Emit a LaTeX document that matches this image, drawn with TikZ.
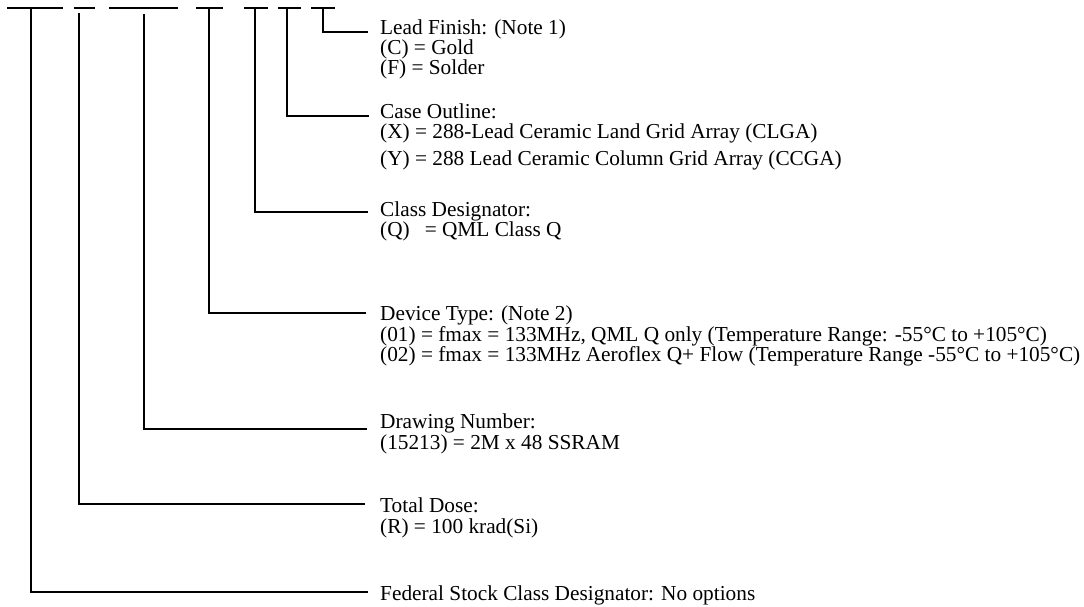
\documentclass[tikz,border=0pt]{standalone}
\usepackage{fontspec}
\setmainfont{Liberation Serif}
\begin{document}
\begin{tikzpicture}[x=1pt,y=-1pt,
  bar/.style={line width=2.7pt},
  conn/.style={line width=2.7pt, line join=miter},
  lbl/.style={anchor=base west, inner sep=0pt, font=\fontsize{21.3}{21}\selectfont}]
\useasboundingbox (0,0) rectangle (1084,607);
% dashes of the part number
\draw[bar] (7,8) -- (63,8);
\draw[bar] (74,8) -- (95,8);
\draw[bar] (109,8) -- (178,8);
\draw[bar] (196,8) -- (223,8);
\draw[bar] (244,8) -- (268,8);
\draw[bar] (278,8) -- (301,8);
\draw[bar] (311,8) -- (335,8);
% connector start points
\coordinate (s1) at (31,8);
\coordinate (s2) at (79,13);
\coordinate (s3) at (144,14);
\coordinate (s4) at (209,8);
\coordinate (s5) at (255,8);
\coordinate (s6) at (287,8);
\coordinate (s7) at (323,8);
% connector end points
\coordinate (e7) at (368,32);
\coordinate (e6) at (369,116);
\coordinate (e5) at (368,212);
\coordinate (e4) at (366,313);
\coordinate (e3) at (367,429);
\coordinate (e2) at (365,504);
\coordinate (e1) at (368,592);
% labels
\node[lbl] (l7a) at (380,35) {Lead Finish: (Note 1)};
\node[lbl] (l7b) at (380,55) {(C) = Gold};
\node[lbl] (l7c) at (380,75) {(F) = Solder};
\node[lbl] (l6a) at (380,119) {Case Outline:};
\node[lbl] (l6b) at (380,139) {(X) = 288-Lead Ceramic Land Grid Array (CLGA)};
\node[lbl] (l6c) at (380,165) {(Y) = 288 Lead Ceramic Column Grid Array (CCGA)};
\node[lbl] (l5a) at (380,216) {Class Designator:};
\node[lbl] (l5b) at (380,236) {(Q)\hspace{15pt}= QML Class Q};
\node[lbl] (l4a) at (380,320) {Device Type: (Note 2)};
\node[lbl] (l4b) at (380,341) {(01) = fmax = 133MHz, QML Q only (Temperature Range: -55°C to +105°C)};
\node[lbl] (l4c) at (380,361) {(02) = fmax = 133MHz Aeroflex Q+ Flow (Temperature Range -55°C to +105°C)};
\node[lbl] (l3a) at (380,428) {Drawing Number:};
\node[lbl] (l3b) at (380,449) {(15213) = 2M x 48 SSRAM};
\node[lbl] (l2a) at (380,512) {Total Dose:};
\node[lbl] (l2b) at (380,533) {(R) = 100 krad(Si)};
\node[lbl] (l1a) at (380,600) {Federal Stock Class Designator: No options};
% connectors
\draw[conn] (s7) |- (e7);
\draw[conn] (s6) |- (e6);
\draw[conn] (s5) |- (e5);
\draw[conn] (s4) |- (e4);
\draw[conn] (s3) |- (e3);
\draw[conn] (s2) |- (e2);
\draw[conn] (s1) |- (e1);
\end{tikzpicture}
\end{document}
